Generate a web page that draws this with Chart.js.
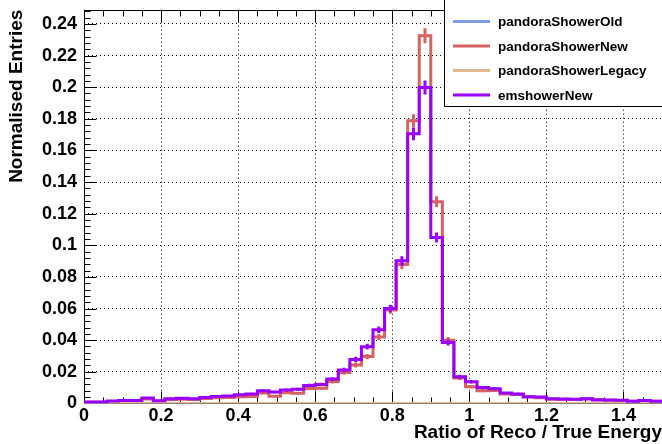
<!DOCTYPE html>
<html>
<head>
<meta charset="utf-8">
<script src="https://cdn.jsdelivr.net/npm/chart.js@4.4.1/dist/chart.umd.min.js"></script>
<style>
html, body { margin: 0; padding: 0; background: #fff; overflow: hidden; }
canvas { display: block; }
</style>
</head>
<body>
<canvas id="chart" width="662" height="444"></canvas>
<script>
// histogram binning (0 .. 1.5, 50 bins)
const binLow = 0;
const binWidth = 0.03;
const nBins = 50;
const nEntries = 10500; // used for the poisson error bars

const seriesNames = ['pandoraShowerOld', 'pandoraShowerNew', 'pandoraShowerLegacy', 'emshowerNew'];
const seriesColors = ['#7f9ddf', '#d66262', '#e2b98e', '#9900ff'];

const pandoraShowerOld = [
    0, 0, 0, 0, 0, 0, 0, 0, 0, 0,
    0, 0, 0, 0, 0, 0, 0, 0, 0, 0,
    0, 0, 0, 0, 0, 0, 0, 0, 0, 0,
    0, 0, 0, 0, 0, 0, 0, 0, 0, 0,
    0, 0, 0, 0, 0, 0, 0, 0, 0, 0
];
const pandoraShowerNew = [
    0.0007, 0.0007, 0.0012, 0.0015, 0.0016, 0.0028, 0.0013, 0.0025, 0.0027, 0.0024,
    0.0031, 0.0035, 0.0038, 0.0042, 0.0043, 0.0066, 0.0046, 0.0068, 0.0064, 0.0094,
    0.0096, 0.0138, 0.0195, 0.0243, 0.0296, 0.0420, 0.0590, 0.0878, 0.1788, 0.2325,
    0.1276, 0.0400, 0.0160, 0.0106, 0.0080, 0.0082, 0.0060, 0.0056, 0.0040, 0.0036,
    0.0026, 0.0025, 0.0024, 0.0028, 0.0024, 0.0020, 0.0018, 0.0014, 0.0016, 0.0013
];
const pandoraShowerLegacy = [
    0, 0, 0, 0, 0, 0, 0, 0, 0, 0,
    0, 0, 0, 0, 0, 0, 0, 0, 0, 0,
    0, 0, 0, 0, 0, 0, 0, 0, 0, 0,
    0, 0, 0, 0, 0, 0, 0, 0, 0, 0,
    0, 0, 0, 0, 0, 0, 0, 0, 0, 0
];
const emshowerNew = [
    0.0009, 0.0009, 0.0015, 0.0018, 0.0019, 0.0034, 0.0016, 0.0030, 0.0032, 0.0030,
    0.0038, 0.0043, 0.0047, 0.0054, 0.0060, 0.0080, 0.0072, 0.0085, 0.0090, 0.0114,
    0.0120, 0.0154, 0.0212, 0.0278, 0.0359, 0.0466, 0.0600, 0.0902, 0.1705, 0.1998,
    0.1050, 0.0385, 0.0168, 0.0137, 0.0100, 0.0092, 0.0065, 0.0060, 0.0042, 0.0040,
    0.0030, 0.0028, 0.0027, 0.0030, 0.0022, 0.0021, 0.0020, 0.0013, 0.0018, 0.0014
];

const allSeries = [pandoraShowerOld, pandoraShowerNew, pandoraShowerLegacy, emshowerNew];

const fontFamily = '"Liberation Sans", Arial, Helvetica, sans-serif';

// stepped points: one per low edge plus the last upper edge
function stepPoints(values) {
    const pts = values.map((v, i) => ({ x: binLow + i * binWidth, y: v }));
    pts.push({ x: binLow + nBins * binWidth, y: values[values.length - 1] });
    return pts;
}

const datasets = allSeries.map((vals, i) => ({
    label: seriesNames[i],
    data: stepPoints(vals),
    values: vals,
    errors: vals.map(v => Math.sqrt(v / nEntries)),
    borderColor: seriesColors[i],
    borderWidth: 3,
    stepped: true,
    pointRadius: 0,
    fill: false,
    order: 4 - i // emshowerNew drawn on top
}));

// frame + inner ticks like a ROOT canvas
const rootFrame = {
    id: 'rootFrame',
    beforeDatasetsDraw(chart) {
        const { ctx, chartArea: a } = chart;
        const x = chart.scales.x, y = chart.scales.y;
        ctx.save();
        ctx.strokeStyle = '#000';
        ctx.lineWidth = 1;
        ctx.beginPath();
        const l = Math.round(a.left) + 0.5, t = Math.round(a.top) + 0.5;
        const b = Math.round(a.bottom) + 0.5, r = Math.round(a.right) + 0.5;
        ctx.moveTo(l, t); ctx.lineTo(r, t);
        ctx.moveTo(l, t); ctx.lineTo(l, b); ctx.lineTo(r, b);
        for (let i = 0; i <= 30; i++) {
            const px = Math.round(x.getPixelForValue(i * 0.05)) + 0.5;
            const len = i % 4 === 0 ? 12 : 6;
            ctx.moveTo(px, b); ctx.lineTo(px, b - len);
            ctx.moveTo(px, t); ctx.lineTo(px, t + len);
        }
        for (let i = 0; i * 0.004 <= y.max; i++) {
            const py = Math.round(y.getPixelForValue(i * 0.004)) + 0.5;
            const len = i % 5 === 0 ? 12 : 6;
            ctx.moveTo(l, py); ctx.lineTo(l + len, py);
        }
        ctx.stroke();
        ctx.restore();
    }
};

// vertical error bars at bin centres, drawn right after each histogram
const errorBars = {
    id: 'errorBars',
    afterDatasetDraw(chart, args) {
        const ds = chart.data.datasets[args.index];
        const x = chart.scales.x, y = chart.scales.y;
        const ctx = chart.ctx;
        ctx.save();
        ctx.strokeStyle = ds.borderColor;
        ctx.lineWidth = ds.borderWidth;
        ctx.beginPath();
        ds.values.forEach((v, i) => {
            if (!v) return;
            const e = ds.errors[i];
            const cx = x.getPixelForValue(binLow + (i + 0.5) * binWidth);
            ctx.moveTo(cx, y.getPixelForValue(v - e));
            ctx.lineTo(cx, y.getPixelForValue(v + e));
        });
        ctx.stroke();
        ctx.restore();
    }
};

// TLegend style box in the top right corner (right edge is off the canvas)
const rootLegend = {
    id: 'rootLegend',
    afterDraw(chart) {
        const ctx = chart.ctx;
        ctx.save();
        ctx.fillStyle = '#fff';
        ctx.fillRect(444.5, 0, 230, 106.5);
        ctx.strokeStyle = '#000';
        ctx.lineWidth = 1;
        ctx.beginPath();
        ctx.moveTo(444.5, 0);
        ctx.lineTo(444.5, 106.5);
        ctx.lineTo(680, 106.5);
        ctx.stroke();
        ctx.font = 'bold 13.5px ' + fontFamily;
        ctx.textBaseline = 'middle';
        ctx.textAlign = 'left';
        chart.data.datasets.forEach((ds, i) => {
            const yy = 21.5 + i * 24.5;
            ctx.strokeStyle = ds.borderColor;
            ctx.lineWidth = 3;
            ctx.beginPath();
            ctx.moveTo(453, yy);
            ctx.lineTo(490, yy);
            ctx.stroke();
            ctx.fillStyle = '#000';
            ctx.fillText(ds.label, 498, yy + 1);
        });
        ctx.restore();
    }
};

new Chart(document.getElementById('chart'), {
    type: 'line',
    data: { datasets: datasets },
    options: {
        responsive: false,
        animation: false,
        devicePixelRatio: 1,
        layout: { padding: { top: 9.7, left: 0, right: 0, bottom: 0 } },
        plugins: {
            legend: { display: false },
            tooltip: { enabled: false }
        },
        scales: {
            x: {
                type: 'linear',
                min: 0,
                max: 1.5,
                grid: { color: '#000', lineWidth: 1, drawTicks: false },
                border: { display: false, dash: [1, 3] },
                ticks: {
                    stepSize: 0.2,
                    includeBounds: false,
                    autoSkip: false,
                    maxRotation: 0,
                    padding: 2,
                    color: '#000',
                    font: { family: fontFamily, size: 18, weight: 'bold' },
                    callback: v => +v.toFixed(2)
                },
                title: {
                    display: true,
                    text: 'Ratio of Reco / True Energy',
                    align: 'end',
                    color: '#000',
                    padding: 0,
                    font: { family: fontFamily, size: 19, weight: 'bold' }
                },
                afterFit: s => { s.height = 40.6; s.paddingLeft = 0; s.paddingRight = 0; }
            },
            y: {
                min: 0,
                max: 0.249,
                grid: { color: '#000', lineWidth: 1, drawTicks: false },
                border: { display: false, dash: [1, 3] },
                ticks: {
                    stepSize: 0.02,
                    includeBounds: false,
                    padding: 7,
                    color: '#000',
                    font: { family: fontFamily, size: 18, weight: 'bold' },
                    callback: v => +v.toFixed(2)
                },
                title: {
                    display: true,
                    text: 'Normalised Entries',
                    align: 'end',
                    color: '#000',
                    padding: { top: 5, bottom: 0 },
                    font: { family: fontFamily, size: 19, weight: 'bold' }
                },
                afterFit: s => { s.width = 84; s.paddingTop = 0; s.paddingBottom = 0; }
            }
        }
    },
    plugins: [rootFrame, errorBars, rootLegend]
});
</script>
</body>
</html>
